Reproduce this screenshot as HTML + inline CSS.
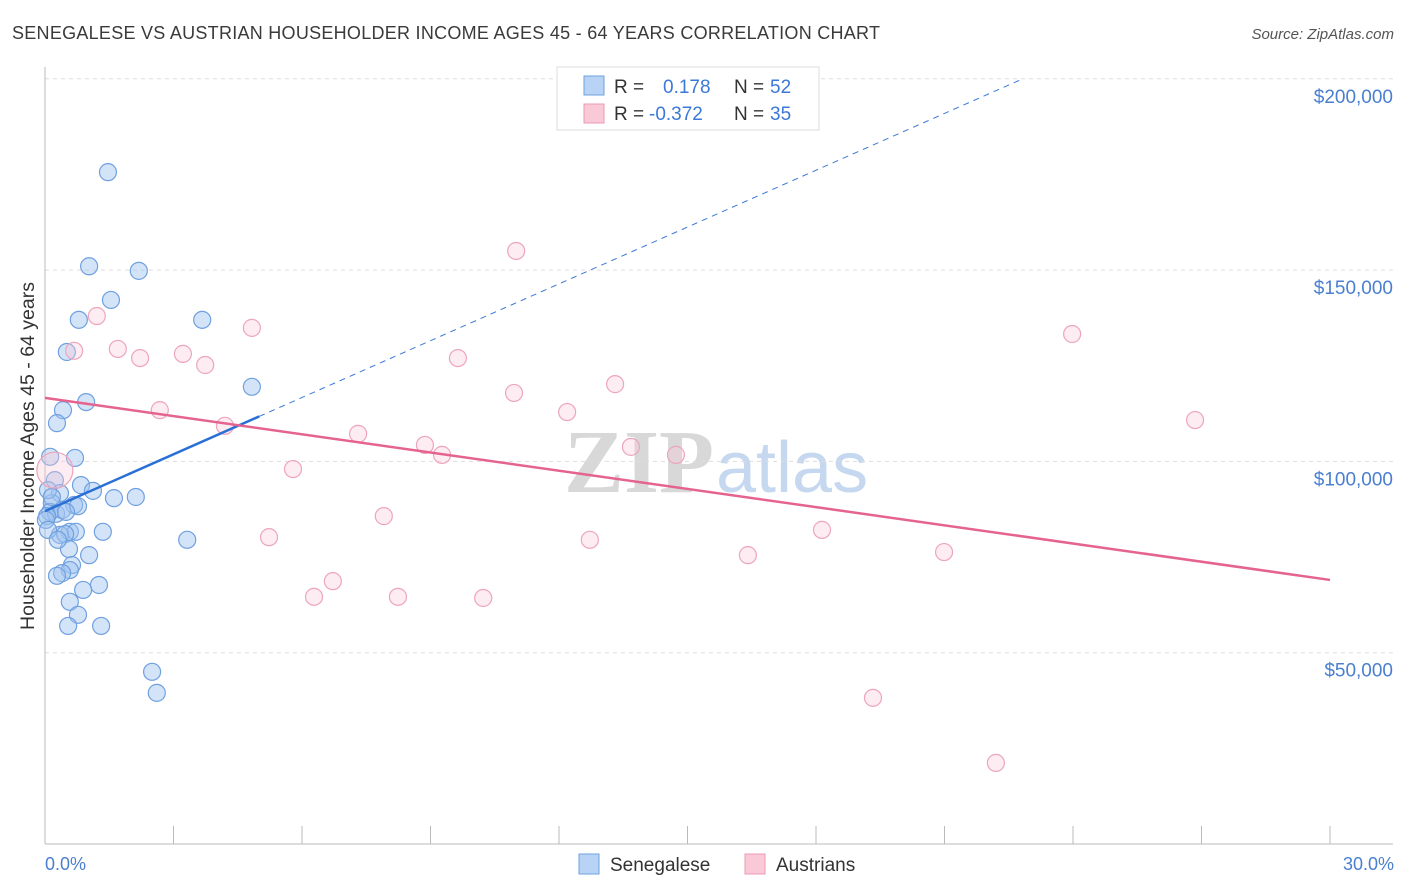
<!DOCTYPE html>
<html><head><meta charset="utf-8"><style>
body{margin:0;background:#fff;font-family:"Liberation Sans",sans-serif}
#c{position:absolute;left:0;top:0}
</style></head><body>
<svg id="c" width="1406" height="892">
<text x="12" y="39" font-size="18" fill="#3a3a3a" textLength="868">SENEGALESE VS AUSTRIAN HOUSEHOLDER INCOME AGES 45 - 64 YEARS CORRELATION CHART</text>
<text x="1394" y="39" font-size="15" fill="#555" font-style="italic" text-anchor="end">Source: ZipAtlas.com</text>
<text x="714" y="492" font-size="90" fill="#d8d8d8" text-anchor="end" font-family="Liberation Serif" font-weight="bold">ZIP</text>
<text x="716" y="492" font-size="72" fill="#c5d8ef">atlas</text>
<g id="grid"></g><g id="axes"></g><g id="pts"></g><g id="trend"></g>
<text transform="translate(34,456) rotate(-90)" font-size="19.5" fill="#333" text-anchor="middle">Householder Income Ages 45 - 64 years</text>
<text x="45" y="870" font-size="18" fill="#4a7fd0">0.0%</text>
<text x="1394" y="870" font-size="18" fill="#4a7fd0" text-anchor="end">30.0%</text>
<g>
<rect x="557" y="67" width="262" height="63" fill="#fff" stroke="#ddd"/>
<rect x="584" y="76" width="20" height="19" fill="#b8d3f5" stroke="#6fa0e0"/>
<rect x="584" y="104" width="20" height="19" fill="#f9c9d7" stroke="#eb9ab3"/>
<text x="614" y="93" font-size="19" fill="#333">R =</text><text x="663" y="93" font-size="19" fill="#3b78d8">0.178</text>
<text x="734" y="93" font-size="19" fill="#333">N =</text><text x="770" y="93" font-size="19" fill="#3b78d8">52</text>
<text x="614" y="120" font-size="19" fill="#333">R =</text><text x="649" y="120" font-size="19" fill="#3b78d8">-0.372</text>
<text x="734" y="120" font-size="19" fill="#333">N =</text><text x="770" y="120" font-size="19" fill="#3b78d8">35</text>
</g>
<g>
<rect x="579" y="854" width="20" height="20" fill="#b8d3f5" stroke="#6fa0e0"/>
<text x="610" y="871" font-size="19" fill="#333">Senegalese</text>
<rect x="745" y="854" width="20" height="20" fill="#f9c9d7" stroke="#eb9ab3"/>
<text x="776" y="871" font-size="19" fill="#333">Austrians</text>
</g>
</svg>
<script>
const yTicks=[50000,100000,150000,200000];
const yTickLabels=["$50,000","$100,000","$150,000","$200,000"];
const xTicks=[0,3,6,9,12,15,18,21,24,27,30];
const senX=[1.47,1.03,2.19,1.54,0.79,3.67,0.51,4.83,0.96,0.42,0.28,0.70,0.12,0.23,0.84,0.35,1.12,1.61,2.12,0.16,0.68,0.77,0.12,0.26,0.40,0.05,0.58,0.72,1.35,0.35,3.32,0.47,0.56,1.03,0.63,0.58,0.40,0.28,1.26,0.89,0.58,0.77,0.54,1.31,2.50,2.61,0.02,0.07,0.16,0.49,0.07,0.30];
const senY=[175600,151000,149800,142200,137000,137000,128600,119500,115500,113400,110000,100900,101200,95100,93800,91700,92300,90400,90700,89100,88600,88300,86800,86300,87300,85700,81600,81600,81600,80800,79500,81000,77100,75500,72900,71600,70800,70100,67700,66400,63300,59900,57000,57000,45000,39500,84700,92500,90700,86800,82100,79500];
const ausX=[11.00,1.21,4.83,23.98,0.68,1.70,3.22,2.22,3.74,9.64,13.31,10.95,2.68,12.19,26.85,4.20,7.31,8.87,9.27,13.68,14.73,5.79,7.91,18.14,5.23,12.72,16.41,20.99,6.72,6.28,8.24,10.23,19.33,22.20,0.23];
const ausY=[155000,138000,134900,133300,128900,129400,128100,127000,125200,127000,120200,117900,113400,112900,110800,109300,107200,104300,101700,103800,101700,98000,85700,82100,80200,79500,75500,76300,68700,64600,64600,64300,38200,21200,97700];
const senTrend=[87000,4950]; // intercept, slope per %
const ausTrend=[116600,-1586];
const X=v=>45+v/30*1285, Y=v=>844-v/50000*191.3;
const NS='http://www.w3.org/2000/svg';
function mk(p,t,a){const e=document.createElementNS(NS,t);for(const k in a)e.setAttribute(k,a[k]);p.appendChild(e);return e;}
const grid=document.getElementById('grid'),axes=document.getElementById('axes'),pts=document.getElementById('pts'),tr=document.getElementById('trend');
yTicks.forEach((v,i)=>{
 const l=mk(grid,'line',{x1:45,x2:1393,y1:Y(v),y2:Y(v),stroke:'#ddd','stroke-dasharray':'4,4'});
 
 
 const t=mk(grid,'text',{x:1393,y:Y(v)+24,'font-size':19,fill:'#4a7fd0','text-anchor':'end'});t.textContent=yTickLabels[i];
 
 
});
const ax=mk(axes,'line',{x1:45,x2:45,y1:67,y2:844,stroke:'#bbb'});


const bx=mk(axes,'line',{x1:45,x2:1393,y1:844,y2:844,stroke:'#bbb'});


xTicks.forEach(v=>{const t=mk(axes,'line',{x1:X(v),x2:X(v),y1:826,y2:844,stroke:'#bbb'});
 
 });
senX.forEach((x,i)=>{const c=mk(pts,'circle',{cx:X(x),cy:Y(senY[i]),r:8.5,fill:'rgba(160,196,240,0.45)',stroke:'#6fa0e0','stroke-width':1.2});
 
 });
ausX.forEach((x,i)=>{const c=mk(pts,'circle',{cx:X(x),cy:Y(ausY[i]),r:i==ausX.length-1?18:8.5,fill:'rgba(248,200,215,0.35)',stroke:'#eda5bc','stroke-width':1.2});
 
 });
const sy=x=>senTrend[0]+senTrend[1]*x, ay=x=>ausTrend[0]+ausTrend[1]*x;
const xEnd=(200000-senTrend[0])/senTrend[1];
let l=mk(tr,'line',{x1:X(5),y1:Y(sy(5)),x2:X(xEnd),y2:Y(sy(xEnd)),stroke:'#3b78d8','stroke-width':1,'stroke-dasharray':'6,5'});


l=mk(tr,'line',{x1:X(0),y1:Y(sy(0)),x2:X(5),y2:Y(sy(5)),stroke:'#2a6fd6','stroke-width':2.5});


l=mk(tr,'line',{x1:X(0),y1:Y(ay(0)),x2:X(30),y2:Y(ay(30)),stroke:'#e5638f','stroke-width':2.5});


</script>
</body></html>
